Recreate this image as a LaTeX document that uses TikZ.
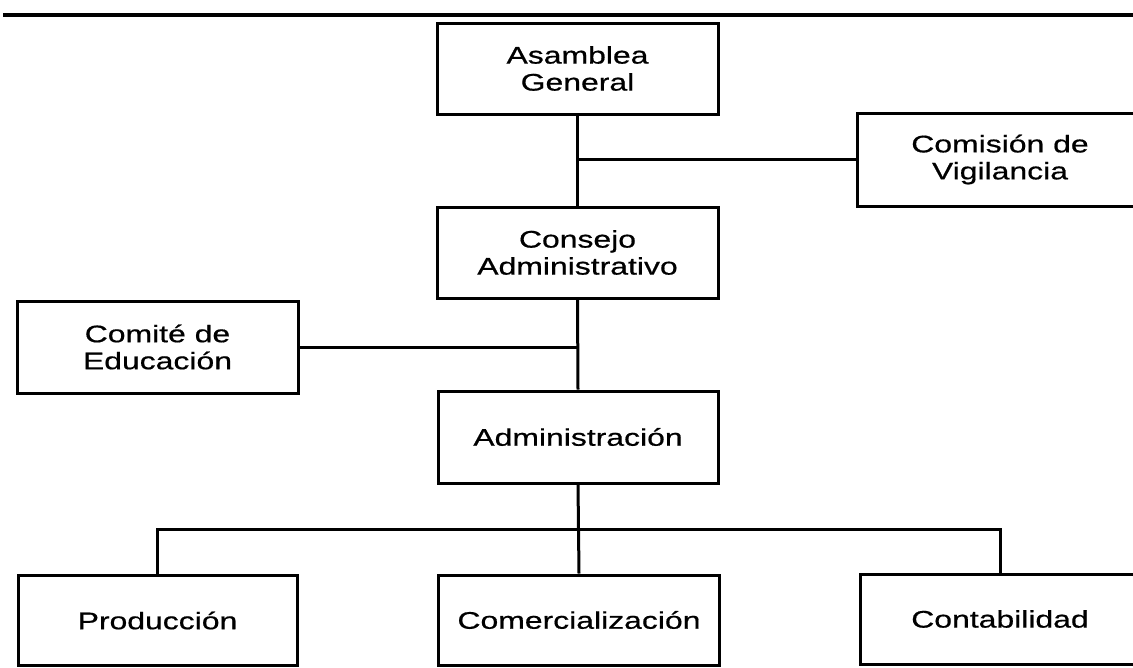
\documentclass[tikz,border=0pt]{standalone}
\usepackage{fontspec}
\newfontfamily\boxfont{Liberation Sans}[FakeStretch=1.33,FakeBold=0.6]
\begin{document}
\begin{tikzpicture}[x=1pt,y=-1pt,
  orgbox/.style={draw=black, line width=3pt, inner sep=0pt, align=center,
    font=\boxfont\fontsize{24}{27}\selectfont, text=black},
  link/.style={draw=black, line width=3pt}]
\useasboundingbox (0,0) rectangle (1133,667);
\clip (0,0) rectangle (1133,667);
\fill[white] (0,0) rectangle (1133,667);
\coordinate (tl) at (3,15);
\coordinate (tr) at (1133,15);
\draw[link, line width=3.4pt] (tl) -- (tr);
\node[orgbox, minimum width=281pt, minimum height=91pt] (asamblea) at (577.5,68.5) {Asamblea\\General};
\node[orgbox, minimum width=286pt, minimum height=93pt] (comision) at (1000,159.5) {Comisión de\\Vigilancia};
\node[orgbox, minimum width=281pt, minimum height=91pt] (consejo) at (577.5,252.5) {Consejo\\Administrativo};
\node[orgbox, minimum width=281pt, minimum height=92pt] (comite) at (157.5,347) {Comité de\\Educación};
\node[orgbox, minimum width=280pt, minimum height=92pt] (admin) at (578,437) {Administración};
\node[orgbox, minimum width=279pt, minimum height=90pt] (produccion) at (157.5,620.5) {Producción};
\node[orgbox, minimum width=281pt, minimum height=90pt] (comerc) at (579,620) {Comercialización};
\node[orgbox, minimum width=280pt, minimum height=90pt] (contab) at (1000,619) {Contabilidad};
\coordinate (bus) at (578,529);
\draw[link] (asamblea.south) -- (consejo.north);
\draw[link] (asamblea.south |- comision.west) -- (comision.west);
\draw[link] (consejo.south) -- (admin.north);
\draw[link] (comite.east) -- (consejo.south |- comite.east);
\draw[link] (admin.south) -- (comerc.north);
\draw[link] (produccion.north) -- (produccion.north |- bus) -- (contab.north |- bus) -- (contab.north);
\end{tikzpicture}
\end{document}
